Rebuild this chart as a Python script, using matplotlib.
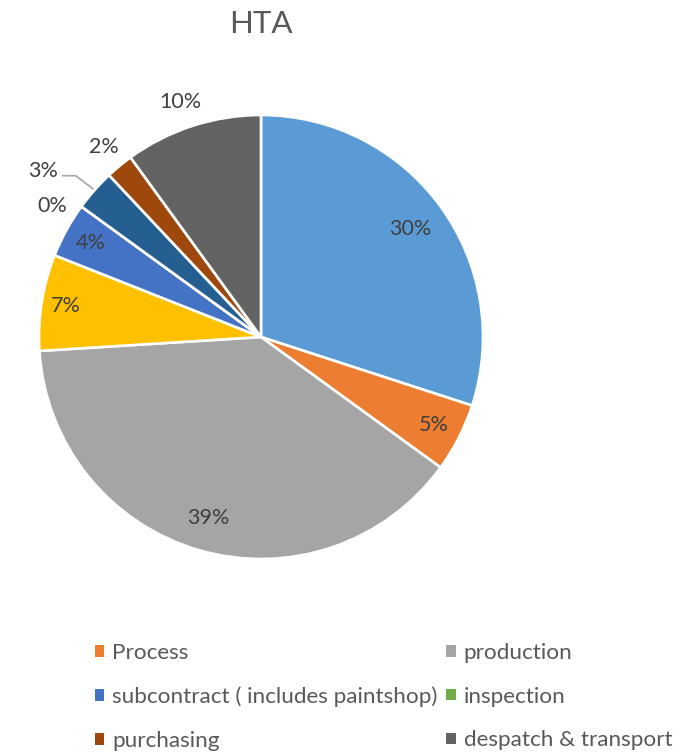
import matplotlib.pyplot as plt
import numpy as np
from matplotlib.patches import Patch

plt.rcParams['font.family'] = ['Lato', 'DejaVu Sans']

# data
names = ['', 'Process', 'production', '', 'subcontract ( includes paintshop)',
         'inspection', '', 'purchasing', 'despatch & transport']
values = [30, 5, 39, 7, 4, 0, 3, 2, 10]
colors = ['#5B9BD5', '#ED7D31', '#A5A5A5', '#FFC000', '#4472C4',
          '#70AD47', '#255E91', '#9E480E', '#636363']
# label position: distance from centre (fraction of radius), angle shift (deg)
label_r = [0.83, 0.875, 0.85, 0.89, 0.875, 1.11, 1.24, 1.11, 1.12]
label_da = [0, 0, 0, 0, 0, 4, 0, 0, 1]

W, H = 685, 753
fig = plt.figure(figsize=(W / 100, H / 100), dpi=100)
ax = fig.add_axes([0, 0, 1, 1])

cx, cy, R = 261, H - 337, 222
wedges, _ = ax.pie(values, colors=colors, startangle=90, counterclock=False,
                   center=(cx, cy), radius=R, frame=True,
                   wedgeprops=dict(edgecolor='white', linewidth=1.9))
ax.set_xlim(0, W)
ax.set_ylim(0, H)
ax.set_aspect('equal')
ax.axis('off')

for i, w in enumerate(wedges):
    mid = np.deg2rad((w.theta1 + w.theta2) / 2 + label_da[i])
    r = R * label_r[i]
    tx, ty = cx + r * np.cos(mid), cy + r * np.sin(mid)
    if i == 6:
        # leader line for the 3% label
        ex, ey = cx + R * 1.01 * np.cos(mid), cy + R * 1.01 * np.sin(mid)
        ax.plot([ex, ex - 17, ex - 30], [ey, ey + 13, ey + 13], color='#A6A6A6', lw=1.2)
        tx, ty = ex - 50, ey + 18
    ax.text(tx, ty, '%d%%' % values[i], ha='center', va='center',
            fontsize=15.5, color='#404040')

ax.text(cx, H - 24, 'HTA', ha='center', va='center', fontsize=22.5, color='#595959')

order = [1, 4, 7, 2, 5, 8]
handles = [Patch(facecolor=colors[i], label=names[i]) for i in order]
leg = ax.legend(handles=handles, ncol=2, loc='upper left',
                bbox_to_anchor=(79 / W, 1 - 627 / H), frameon=False,
                fontsize=16.2, labelcolor='#595959', handlelength=0.42,
                handleheight=0.42, handletextpad=0.35, columnspacing=0.4,
                labelspacing=1.06, borderpad=0.2)

fig.savefig('out.png', dpi=100)
